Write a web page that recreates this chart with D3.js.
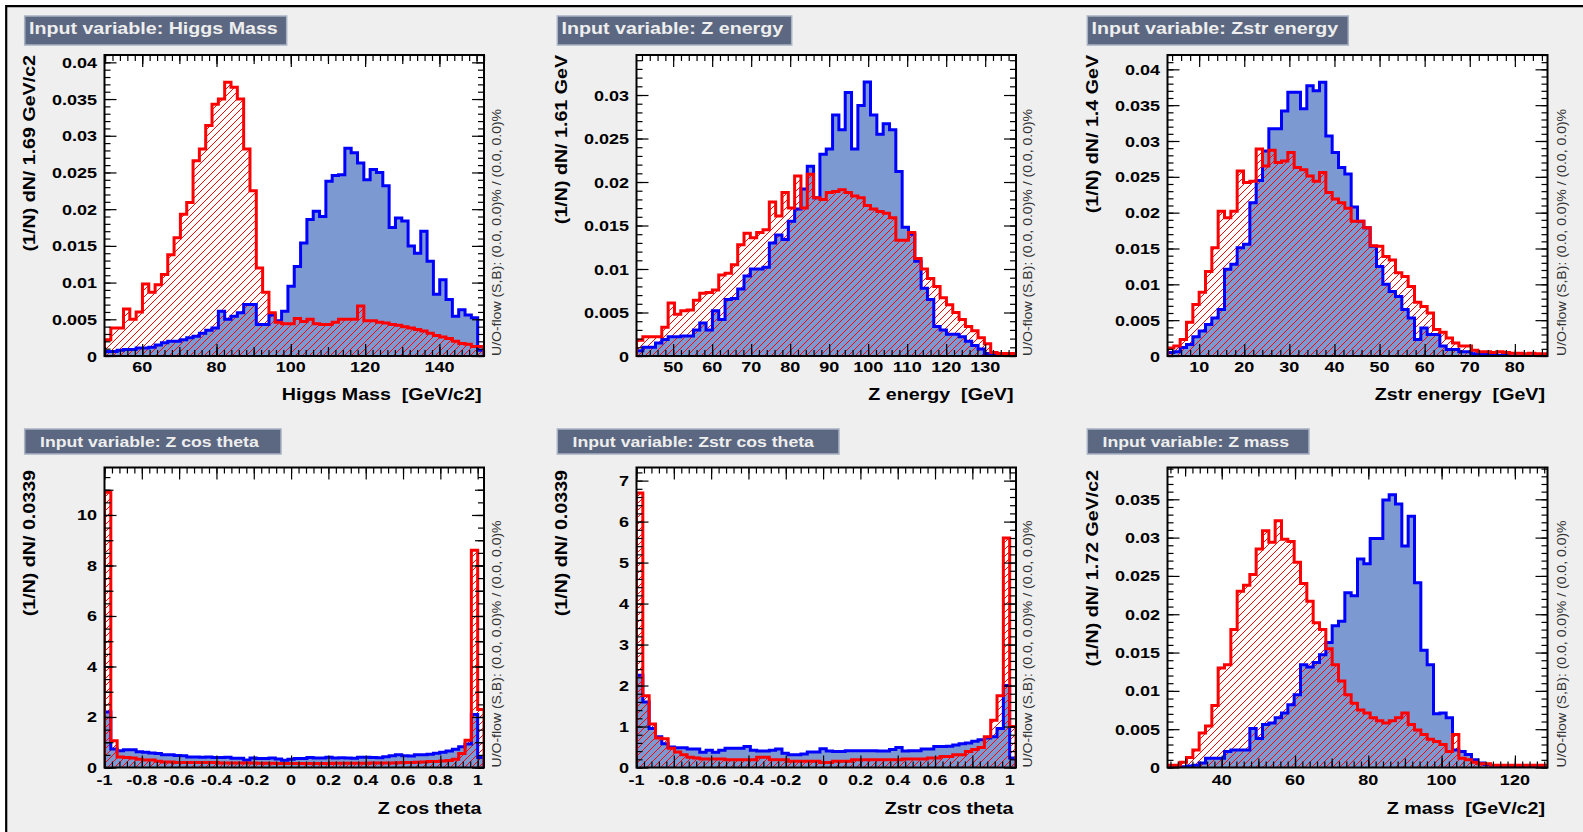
<!DOCTYPE html>
<html>
<head>
<meta charset="utf-8">
<script src="https://cdn.jsdelivr.net/npm/d3@7/dist/d3.min.js"></script>
<style>
  html, body { margin:0; padding:0; background:#ffffff; overflow:hidden; }
  svg { display:block; }
  text { font-family: "Liberation Sans", Arial, Helvetica, sans-serif; }
</style>
</head>
<body>
<svg id="chart" width="1583" height="832"></svg>
<script>
// ======================= DATA =======================
// Higgs Mass
const higgsMassRange = [49.85, 152.0];
const higgsMassSignal = [
  0.0006, 0.0006, 0.0008, 0.0009, 0.0009, 0.0011, 0.0011, 0.0012, 0.0015, 0.0018,
  0.0020, 0.0020, 0.0022, 0.0025, 0.0027, 0.0031, 0.0035, 0.0038, 0.0061, 0.0050,
  0.0054, 0.0059, 0.0070, 0.0070, 0.0043, 0.0043, 0.0056, 0.0048, 0.0061, 0.0095,
  0.0122, 0.0154, 0.0186, 0.0197, 0.0190, 0.0238, 0.0246, 0.0247, 0.0283, 0.0277,
  0.0263, 0.0240, 0.0254, 0.0250, 0.0232, 0.0175, 0.0188, 0.0184, 0.0150, 0.0140,
  0.0170, 0.0129, 0.0084, 0.0104, 0.0077, 0.0054, 0.0063, 0.0056, 0.0052, 0.0008];
const higgsMassBackground = [
  0.0022, 0.0038, 0.0038, 0.0064, 0.0050, 0.0060, 0.0098, 0.0087, 0.0097, 0.0111,
  0.0138, 0.0161, 0.0193, 0.0209, 0.0266, 0.0282, 0.0314, 0.0343, 0.0350, 0.0373,
  0.0366, 0.0350, 0.0282, 0.0225, 0.0120, 0.0087, 0.0059, 0.0046, 0.0044, 0.0044,
  0.0051, 0.0047, 0.0050, 0.0044, 0.0043, 0.0043, 0.0046, 0.0050, 0.0050, 0.0050,
  0.0068, 0.0048, 0.0048, 0.0046, 0.0045, 0.0043, 0.0042, 0.0040, 0.0038, 0.0036,
  0.0034, 0.0031, 0.0028, 0.0026, 0.0024, 0.0020, 0.0017, 0.0016, 0.0013, 0.0013];
const higgsMassXTicks = [60, 80, 100, 120, 140];
const higgsMassYTicks = [0, 0.005, 0.01, 0.015, 0.02, 0.025, 0.03, 0.035, 0.04];

// Z energy
const zEnergyRange = [40.6, 137.9];
const zEnergySignal = [
  0.0006, 0.0010, 0.0010, 0.0015, 0.0019, 0.0022, 0.0022, 0.0023, 0.0023, 0.0030,
  0.0038, 0.0030, 0.0052, 0.0042, 0.0065, 0.0066, 0.0077, 0.0092, 0.0100, 0.0100,
  0.0102, 0.0130, 0.0139, 0.0134, 0.0155, 0.0169, 0.0192, 0.0218, 0.0182, 0.0232,
  0.0238, 0.0277, 0.0260, 0.0303, 0.0238, 0.0288, 0.0315, 0.0277, 0.0255, 0.0267,
  0.0260, 0.0212, 0.0148, 0.0140, 0.0109, 0.0078, 0.0065, 0.0034, 0.0030, 0.0025,
  0.0025, 0.0022, 0.0017, 0.0012, 0.0008, 0.0003, 0.0001, 0.0000, 0.0000, 0.0000];
const zEnergyBackground = [
  0.0018, 0.0022, 0.0022, 0.0022, 0.0033, 0.0061, 0.0048, 0.0052, 0.0053, 0.0064,
  0.0072, 0.0073, 0.0076, 0.0093, 0.0095, 0.0105, 0.0128, 0.0141, 0.0136, 0.0142,
  0.0145, 0.0177, 0.0161, 0.0188, 0.0170, 0.0207, 0.0170, 0.0209, 0.0182, 0.0180,
  0.0188, 0.0189, 0.0191, 0.0188, 0.0184, 0.0182, 0.0173, 0.0169, 0.0166, 0.0164,
  0.0159, 0.0133, 0.0133, 0.0142, 0.0112, 0.0100, 0.0089, 0.0080, 0.0067, 0.0059,
  0.0050, 0.0042, 0.0034, 0.0029, 0.0021, 0.0014, 0.0004, 0.0003, 0.0003, 0.0003];
const zEnergyXTicks = [50, 60, 70, 80, 90, 100, 110, 120, 130];
const zEnergyYTicks = [0, 0.005, 0.01, 0.015, 0.02, 0.025, 0.03];

// Zstr energy
const zstrEnergyRange = [2.98, 87.24];
const zstrEnergySignal = [
  0.0005, 0.0006, 0.0012, 0.0016, 0.0027, 0.0035, 0.0044, 0.0053, 0.0065, 0.0121,
  0.0128, 0.0151, 0.0156, 0.0214, 0.0245, 0.0286, 0.0317, 0.0317, 0.0342, 0.0368,
  0.0368, 0.0345, 0.0377, 0.0370, 0.0382, 0.0307, 0.0284, 0.0263, 0.0254, 0.0208,
  0.0188, 0.0179, 0.0153, 0.0125, 0.0100, 0.0090, 0.0083, 0.0065, 0.0053, 0.0023,
  0.0039, 0.0030, 0.0030, 0.0014, 0.0009, 0.0009, 0.0006, 0.0006, 0.0003, 0.0002,
  0.0002, 0.0001, 0.0001, 0.0001, 0.0000, 0.0000, 0.0000, 0.0000, 0.0000, 0.0000];
const zstrEnergyBackground = [
  0.0011, 0.0014, 0.0023, 0.0047, 0.0072, 0.0089, 0.0118, 0.0151, 0.0202, 0.0193,
  0.0202, 0.0258, 0.0242, 0.0244, 0.0289, 0.0265, 0.0287, 0.0270, 0.0272, 0.0284,
  0.0263, 0.0260, 0.0251, 0.0244, 0.0256, 0.0228, 0.0219, 0.0214, 0.0206, 0.0188,
  0.0188, 0.0179, 0.0154, 0.0153, 0.0139, 0.0134, 0.0116, 0.0111, 0.0097, 0.0075,
  0.0069, 0.0060, 0.0037, 0.0033, 0.0025, 0.0018, 0.0014, 0.0014, 0.0008, 0.0006,
  0.0006, 0.0005, 0.0006, 0.0005, 0.0004, 0.0004, 0.0003, 0.0004, 0.0003, 0.0003];
const zstrEnergyXTicks = [10, 20, 30, 40, 50, 60, 70, 80];
const zstrEnergyYTicks = [0, 0.005, 0.01, 0.015, 0.02, 0.025, 0.03, 0.035, 0.04];

// Z cos theta
const zCosRange = [-1.0, 1.034];
const zCosSignal = [
  2.20, 0.73, 0.66, 0.70, 0.70, 0.62, 0.60, 0.57, 0.55, 0.50,
  0.50, 0.48, 0.47, 0.42, 0.42, 0.41, 0.42, 0.40, 0.40, 0.41,
  0.37, 0.37, 0.30, 0.38, 0.36, 0.36, 0.38, 0.34, 0.29, 0.33,
  0.36, 0.36, 0.40, 0.38, 0.38, 0.41, 0.38, 0.39, 0.38, 0.37,
  0.41, 0.41, 0.40, 0.39, 0.43, 0.47, 0.50, 0.47, 0.46, 0.50,
  0.50, 0.52, 0.56, 0.60, 0.65, 0.72, 0.82, 0.93, 2.10, 0.40];
const zCosBackground = [
  10.9, 1.06, 0.42, 0.40, 0.38, 0.33, 0.30, 0.30, 0.25, 0.22,
  0.22, 0.20, 0.20, 0.20, 0.20, 0.20, 0.20, 0.20, 0.18, 0.18,
  0.18, 0.18, 0.18, 0.18, 0.17, 0.17, 0.17, 0.16, 0.16, 0.16,
  0.16, 0.16, 0.16, 0.16, 0.16, 0.16, 0.17, 0.17, 0.17, 0.17,
  0.17, 0.17, 0.18, 0.18, 0.18, 0.18, 0.19, 0.20, 0.20, 0.21,
  0.22, 0.24, 0.24, 0.26, 0.28, 0.33, 0.55, 1.08, 8.60, 2.30];
const cosXTicks = [-1, -0.8, -0.6, -0.4, -0.2, 0, 0.2, 0.4, 0.6, 0.8, 1];
const zCosYTicks = [0, 2, 4, 6, 8, 10];

// Zstr cos theta
const zstrCosRange = [-1.0, 1.034];
const zstrCosSignal = [
  2.25, 1.60, 0.95, 0.75, 0.58, 0.50, 0.48, 0.48, 0.45, 0.45,
  0.37, 0.42, 0.37, 0.42, 0.47, 0.47, 0.47, 0.51, 0.42, 0.40,
  0.40, 0.42, 0.45, 0.35, 0.31, 0.31, 0.33, 0.38, 0.38, 0.46,
  0.40, 0.39, 0.39, 0.41, 0.41, 0.41, 0.41, 0.41, 0.40, 0.40,
  0.44, 0.49, 0.40, 0.41, 0.41, 0.45, 0.45, 0.51, 0.51, 0.52,
  0.55, 0.58, 0.60, 0.64, 0.68, 0.72, 0.75, 0.95, 2.00, 0.23];
const zstrCosBackground = [
  6.70, 1.75, 1.06, 0.72, 0.70, 0.47, 0.38, 0.31, 0.25, 0.23,
  0.21, 0.21, 0.21, 0.21, 0.19, 0.19, 0.19, 0.19, 0.19, 0.25,
  0.25, 0.19, 0.19, 0.19, 0.15, 0.15, 0.15, 0.15, 0.15, 0.12,
  0.12, 0.15, 0.15, 0.15, 0.19, 0.19, 0.19, 0.19, 0.19, 0.19,
  0.19, 0.19, 0.21, 0.21, 0.21, 0.21, 0.23, 0.23, 0.27, 0.27,
  0.31, 0.31, 0.39, 0.44, 0.49, 0.75, 1.15, 1.75, 5.60, 1.00];
const zstrCosYTicks = [0, 1, 2, 3, 4, 5, 6, 7];

// Z mass
const zMassRange = [25.2, 128.9];
const zMassSignal = [
  0.0000, 0.0000, 0.0001, 0.0002, 0.0003, 0.0006, 0.0012, 0.0012, 0.0012, 0.0021,
  0.0023, 0.0023, 0.0023, 0.0051, 0.0038, 0.0056, 0.0058, 0.0065, 0.0071, 0.0082,
  0.0095, 0.0134, 0.0131, 0.0137, 0.0147, 0.0163, 0.0185, 0.0191, 0.0228, 0.0224,
  0.0272, 0.0266, 0.0299, 0.0299, 0.0349, 0.0356, 0.0344, 0.0289, 0.0328, 0.0241,
  0.0153, 0.0134, 0.0070, 0.0071, 0.0065, 0.0023, 0.0021, 0.0017, 0.0010, 0.0006,
  0.0004, 0.0002, 0.0001, 0.0000, 0.0000, 0.0000, 0.0000, 0.0000, 0.0000, 0.0000];
const zMassBackground = [
  0.0003, 0.0003, 0.0007, 0.0013, 0.0023, 0.0045, 0.0054, 0.0081, 0.0130, 0.0134,
  0.0180, 0.0230, 0.0238, 0.0252, 0.0285, 0.0309, 0.0294, 0.0322, 0.0298, 0.0295,
  0.0268, 0.0240, 0.0217, 0.0189, 0.0180, 0.0155, 0.0134, 0.0113, 0.0095, 0.0084,
  0.0075, 0.0071, 0.0065, 0.0061, 0.0058, 0.0061, 0.0065, 0.0071, 0.0056, 0.0049,
  0.0043, 0.0037, 0.0034, 0.0030, 0.0021, 0.0043, 0.0012, 0.0010, 0.0007, 0.0005,
  0.0005, 0.0003, 0.0003, 0.0003, 0.0003, 0.0003, 0.0003, 0.0003, 0.0003, 0.0003];
const zMassXTicks = [40, 60, 80, 100, 120];
const zMassYTicks = [0, 0.005, 0.01, 0.015, 0.02, 0.025, 0.03, 0.035];

const panelTitles = ["Input variable: Higgs Mass", "Input variable: Z energy", "Input variable: Zstr energy",
                     "Input variable: Z cos theta", "Input variable: Zstr cos theta", "Input variable: Z mass"];
const xTitles = ["Higgs Mass  [GeV/c2]", "Z energy  [GeV]", "Zstr energy  [GeV]", "Z cos theta", "Zstr cos theta", "Z mass  [GeV/c2]"];
const yTitles = ["(1/N) dN/ 1.69 GeV/c2", "(1/N) dN/ 1.61 GeV", "(1/N) dN/ 1.4 GeV",
                 "(1/N) dN/ 0.0339", "(1/N) dN/ 0.0339", "(1/N) dN/ 1.72 GeV/c2"];
const overflowText = "U/O-flow (S,B): (0.0, 0.0)% / (0.0, 0.0)%";

// ======================= LAYOUT =======================
const K = 1.17; // horizontal glyph stretch of the original rendering
const rows = [
  { t: 55, b: 356, boxY: 16, boxH: 29, titleSize: 16.8, titleBase: 18, titleInset: 4.3, xLabOff: 16, xTitleOff: 44, yTitleEnd: 0 },
  { t: 467.5, b: 767.5, boxY: 429, boxH: 25, titleSize: 15.1, titleBase: 17.5, titleInset: 15.3, xLabOff: 17.5, xTitleOff: 46.5, yTitleEnd: 2.5 }
];
const cols = [
  { l: 104.5, r: 484, uo: 16.5 },
  { l: 636.5, r: 1016, uo: 15.5 },
  { l: 1167.5, r: 1547.5, uo: 18 }
];

const panels = [
  { row: 0, col: 0, boxX: 24.7, boxW: 262, range: higgsMassRange, yMax: 0.041, sig: higgsMassSignal, bkg: higgsMassBackground,
    xTicks: higgsMassXTicks, yTicks: higgsMassYTicks, xMinor: 2, xMid: 10, yMinor: 0.001, yMid: 0 },
  { row: 0, col: 1, boxX: 557.3, boxW: 234.4, range: zEnergyRange, yMax: 0.0346, sig: zEnergySignal, bkg: zEnergyBackground,
    xTicks: zEnergyXTicks, yTicks: zEnergyYTicks, xMinor: 2, xMid: 0, yMinor: 0.001, yMid: 0 },
  { row: 0, col: 2, boxX: 1087.3, boxW: 261, range: zstrEnergyRange, yMax: 0.042, sig: zstrEnergySignal, bkg: zstrEnergyBackground,
    xTicks: zstrEnergyXTicks, yTicks: zstrEnergyYTicks, xMinor: 2, xMid: 0, yMinor: 0.001, yMid: 0 },
  { row: 1, col: 0, boxX: 24.7, boxW: 256.3, range: zCosRange, yMax: 11.88, sig: zCosSignal, bkg: zCosBackground,
    xTicks: cosXTicks, yTicks: zCosYTicks, xMinor: 0.04, xMid: 0, yMinor: 0.5, yMid: 1 },
  { row: 1, col: 1, boxX: 557.3, boxW: 281.7, range: zstrCosRange, yMax: 7.32, sig: zstrCosSignal, bkg: zstrCosBackground,
    xTicks: cosXTicks, yTicks: zstrCosYTicks, xMinor: 0.04, xMid: 0, yMinor: 0.2, yMid: 0 },
  { row: 1, col: 2, boxX: 1087.3, boxW: 221.7, range: zMassRange, yMax: 0.03915, sig: zMassSignal, bkg: zMassBackground,
    xTicks: zMassXTicks, yTicks: zMassYTicks, xMinor: 2, xMid: 10, yMinor: 0.001, yMid: 0 }
];

// ======================= DRAW =======================
const svg = d3.select("#chart");

// pad background and outer frame lines
svg.append("rect").attr("x", 6).attr("y", 6).attr("width", 1577).attr("height", 826).attr("fill", "#efefef");
svg.append("path").attr("d", "M6.2,832V6.2H1583").attr("fill", "none").attr("stroke", "#000").attr("stroke-width", 2.2);

const defs = svg.append("defs");
const pat = defs.append("pattern").attr("id", "hatch").attr("patternUnits", "userSpaceOnUse")
  .attr("width", 7).attr("height", 7);
pat.append("path").attr("d", "M-1,1 l2,-2 M0,7 l7,-7 M6,8 l2,-2")
  .attr("stroke", "#ff0000").attr("stroke-width", 1).attr("fill", "none");

function label(g, str, x, y, o) {
  return g.append("text")
    .attr("transform", `translate(${x},${y}) rotate(${o.rotate || 0}) scale(${K},1)`)
    .attr("text-anchor", o.anchor || "start")
    .attr("font-size", o.size)
    .attr("font-weight", o.weight || "bold")
    .attr("fill", o.fill || "#000")
    .style("white-space", "pre")
    .text(str);
}

function stepValues(domain, step) {
  if (!step) return [];
  const out = [];
  const n0 = Math.ceil(domain[0] / step - 1e-6), n1 = Math.floor(domain[1] / step + 1e-6);
  for (let n = n0; n <= n1; n++) out.push(+(n * step).toFixed(6));
  return out;
}

const fmt = v => String(+v.toFixed(4));

panels.forEach((p, idx) => {
  const row = rows[p.row], col = cols[p.col];
  const l = col.l, r = col.r, t = row.t, b = row.b;
  const g = svg.append("g");
  const x = d3.scaleLinear().domain(p.range).range([l, r]);
  const y = d3.scaleLinear().domain([0, p.yMax]).range([b, t]);
  const bw = (p.range[1] - p.range[0]) / p.sig.length;

  // title box
  g.append("rect").attr("x", p.boxX).attr("y", row.boxY).attr("width", p.boxW).attr("height", row.boxH)
    .attr("fill", "#5c6881").attr("stroke", "#a9b3c4").attr("stroke-width", 1.5);
  label(g, panelTitles[idx], p.boxX + row.titleInset, row.boxY + row.titleBase, { size: row.titleSize, fill: "#eeeeee" });

  // plot area
  g.append("rect").attr("x", l).attr("y", t).attr("width", r - l).attr("height", b - t).attr("fill", "#ffffff");
  const clipId = "clip" + idx;
  defs.append("clipPath").attr("id", clipId).append("rect")
    .attr("x", l).attr("y", t).attr("width", r - l).attr("height", b - t);
  const hg = g.append("g").attr("clip-path", `url(#${clipId})`);

  const pts = vals => {
    const a = [[p.range[0], 0]];
    vals.forEach((v, i) => a.push([p.range[0] + i * bw, v]));
    a.push([p.range[0] + vals.length * bw, vals[vals.length - 1]]);
    a.push([p.range[0] + vals.length * bw, 0]);
    return a;
  };
  const area = d3.area().curve(d3.curveStepAfter).x(d => x(d[0])).y0(y(0)).y1(d => y(d[1]));
  const line = d3.line().curve(d3.curveStepAfter).x(d => x(d[0])).y(d => y(d[1]));

  hg.append("path").attr("d", area(pts(p.sig))).attr("fill", "#7d99d1");
  hg.append("path").attr("d", area(pts(p.bkg))).attr("fill", "url(#hatch)");
  hg.append("path").attr("d", line(pts(p.sig))).attr("fill", "none").attr("stroke", "#0000ff")
    .attr("stroke-width", 3).attr("stroke-linejoin", "miter");
  hg.append("path").attr("d", line(pts(p.bkg))).attr("fill", "none").attr("stroke", "#ff0000")
    .attr("stroke-width", 3).attr("stroke-linejoin", "miter");

  // ticks on all four sides, pointing inward
  const xLevels = [[p.xTicks, 12], [stepValues(p.range, p.xMid), 9], [stepValues(p.range, p.xMinor), 6]];
  const yLevels = [[p.yTicks, 12], [stepValues([0, p.yMax], p.yMid), 9], [stepValues([0, p.yMax], p.yMinor), 6]];
  const drawAxis = (axis, tr) => {
    g.append("g").attr("transform", tr).call(axis)
      .call(a => a.select(".domain").remove())
      .call(a => a.selectAll("text").remove())
      .selectAll("line").attr("stroke", "#000").attr("stroke-width", 1.2);
  };
  xLevels.forEach(([vals, len]) => {
    if (!vals.length) return;
    drawAxis(d3.axisBottom(x).tickValues(vals).tickSize(-len).tickSizeOuter(0).tickFormat(""), `translate(0,${b})`);
    drawAxis(d3.axisTop(x).tickValues(vals).tickSize(-len).tickSizeOuter(0).tickFormat(""), `translate(0,${t})`);
  });
  yLevels.forEach(([vals, len]) => {
    if (!vals.length) return;
    drawAxis(d3.axisLeft(y).tickValues(vals).tickSize(-len).tickSizeOuter(0).tickFormat(""), `translate(${l},0)`);
    drawAxis(d3.axisRight(y).tickValues(vals).tickSize(-len).tickSizeOuter(0).tickFormat(""), `translate(${r},0)`);
  });

  // frame
  g.append("rect").attr("x", l).attr("y", t).attr("width", r - l).attr("height", b - t)
    .attr("fill", "none").attr("stroke", "#000").attr("stroke-width", 2);

  // tick labels
  p.yTicks.forEach(v => label(g, fmt(v), l - 7.5, y(v) + 5.5, { size: 15.4, anchor: "end" }));
  p.xTicks.forEach(v => label(g, fmt(v), x(v), b + row.xLabOff, { size: 15.4, anchor: "middle" }));

  // axis titles
  label(g, xTitles[idx], r - 2.5, b + row.xTitleOff, { size: 16.8, anchor: "end" });
  label(g, yTitles[idx], l - 69.5, t + row.yTitleEnd, { size: 16.8, anchor: "end", rotate: -90 });

  // overflow note
  label(g, overflowText, r + col.uo, b, { size: 12, weight: "normal", fill: "#333", rotate: -90 });
});
</script>
</body>
</html>
